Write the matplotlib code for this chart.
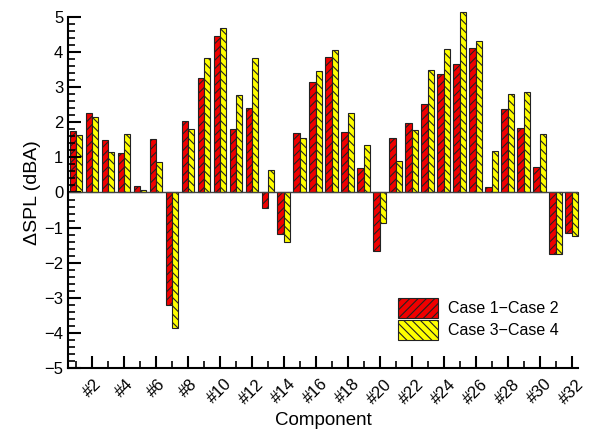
import numpy as np
import matplotlib.pyplot as plt
from matplotlib.ticker import MultipleLocator

plt.rcParams['font.family'] = ['Liberation Sans', 'DejaVu Sans']
plt.rcParams['hatch.linewidth'] = 0.8

# component index and the two delta-SPL series (dBA)
components = np.arange(1, 33)
case12 = [1.76, 2.27, 1.49, 1.13, 0.18, 1.52, -3.20, 2.05, 3.27, 4.47,
          1.82, 2.42, -0.45, -1.17, 1.69, 3.15, 3.87, 1.72, 0.69, -1.68,
          1.54, 1.98, 2.52, 3.38, 3.65, 4.13, 0.15, 2.38, 1.83, 0.74,
          -1.76, -1.14]
case34 = [1.63, 2.15, 1.15, 1.67, 0.06, 0.86, -3.86, 1.80, 3.82, 4.69,
          2.79, 3.84, 0.63, -1.42, 1.55, 3.47, 4.06, 2.26, 1.35, -0.87,
          0.89, 1.79, 3.49, 4.09, 5.13, 4.32, 1.17, 2.81, 2.87, 1.67,
          -1.76, -1.23]
tick_pos = components[1::2]
tick_labels = ["#%d" % c for c in tick_pos]

fig = plt.figure(figsize=(5.89, 4.36), dpi=100)
ax = fig.add_axes([0.1155, 0.156, 0.866, 0.805])

w = 0.4
ax.bar(components - w / 2, case12, w, color="#f00000", edgecolor="#222222",
       linewidth=0.8, hatch="////", label="Case 1\u2212Case 2", clip_on=False)
ax.bar(components + w / 2, case34, w, color="#ffff00", edgecolor="#222222",
       linewidth=0.8, hatch="\\\\\\\\", label="Case 3\u2212Case 4", clip_on=False)
ax.axhline(0, color="#444444", linewidth=1.0)

ax.set_xlim(0.5, 32.4)
ax.set_ylim(-5, 5)
ax.spines["top"].set_visible(False)
ax.spines["right"].set_visible(False)
ax.spines["left"].set_linewidth(1.5)
ax.spines["bottom"].set_linewidth(1.5)

ax.set_xticks(tick_pos)
ax.set_xticklabels(tick_labels, rotation=45, ha="center", va="top", fontsize=12)
ax.set_xticks(components[0::2], minor=True)
ax.yaxis.set_major_locator(MultipleLocator(1))
ax.yaxis.set_minor_locator(MultipleLocator(0.2))
ax.tick_params(axis="both", which="major", direction="in", length=9, width=1.5, labelsize=12)
ax.tick_params(axis="both", which="minor", direction="in", length=5, width=1.2)
ax.tick_params(axis="x", which="major", pad=6)

ax.set_xlabel("Component", fontsize=13.5)
ax.set_ylabel("\u0394SPL (dBA)", fontsize=14, labelpad=2)

ax.legend(loc="lower right", bbox_to_anchor=(0.99, 0.04), frameon=False,
          fontsize=11.5, handlelength=2.5, handleheight=1.5, labelspacing=0.15,
          handletextpad=0.6)

plt.savefig("out.png", dpi=100)
